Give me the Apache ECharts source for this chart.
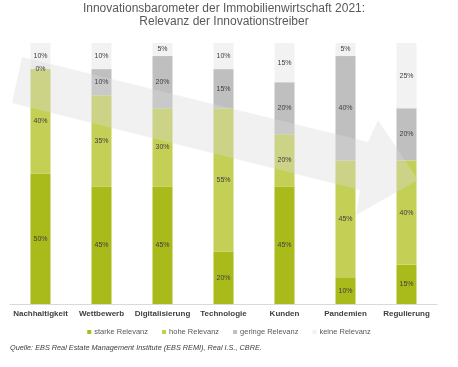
<!DOCTYPE html>
<html><head><meta charset="utf-8">
<script src="https://cdn.jsdelivr.net/npm/echarts@6/dist/echarts.min.js"></script>
<style>html,body{margin:0;padding:0;background:#fff}#c{width:458px;height:367px}</style>
</head><body><div id="c"></div>
<script>
const categories = ["Nachhaltigkeit","Wettbewerb","Digitalisierung","Technologie","Kunden","Pandemien","Regulierung"];
const starke = [50,45,45,20,45,10,15];
const hohe = [40,35,30,55,20,45,40];
const geringe = [0,10,20,15,20,40,20];
const keine = [10,10,5,10,15,5,25];
const seriesNames = ["starke Relevanz","hohe Relevanz","geringe Relevanz","keine Relevanz"];
const colors = ["#a9ba1b","#c3cf55","#bfbfbf","#f2f2f2"];

const chart = echarts.init(document.getElementById('c'), null, {renderer:'canvas'});
const data = [starke,hohe,geringe,keine];
const font = "Liberation Sans, Arial, sans-serif";
const barSeries = seriesNames.map((n,i)=>({
  name:n, type:'bar', stack:'a', barWidth:20, data:data[i], z:2,
  itemStyle:{color:colors[i]}, label:{show:false}
}));
const labelSeries = seriesNames.map((n,i)=>({
  name:n+' ', type:'bar', stack:'lbl', barWidth:20, barGap:'-100%', data:data[i], z:10,
  itemStyle:{color:'rgba(0,0,0,0)'}, silent:true,
  label:{show:true, position:'inside', formatter:'{c}%', fontSize:7, color:'#404040', fontFamily:font}
}));
chart.setOption({
  animation:false,
  textStyle:{fontFamily:font},
  title:{
    text:"Innovationsbarometer der Immobilienwirtschaft 2021:\nRelevanz der Innovationstreiber",
    left:224, top:2, textAlign:'center', padding:0,
    textStyle:{fontSize:12, fontWeight:'normal', color:'#595959', lineHeight:13, fontFamily:font}
  },
  legend:{
    data:seriesNames, left:'center', top:323, icon:'rect', itemWidth:4, itemHeight:4, itemGap:14,
    textStyle:{fontSize:7.5, color:'#595959', fontFamily:font, padding:[0,0,0,-2]}
  },
  grid:{left:10, right:21, top:43, bottom:63},
  xAxis:{
    type:'category', data:categories,
    axisLine:{lineStyle:{color:'#d9d9d9'}}, axisTick:{show:false},
    axisLabel:{fontSize:8, fontWeight:'bold', color:'#404040', margin:6, interval:0, fontFamily:font}
  },
  yAxis:{type:'value', min:0, max:100, interval:10, show:false, splitLine:{show:false}},
  series: barSeries.concat(labelSeries),
  graphic:[{
    type:'polygon', z:5,
    shape:{points:[[22,57],[368,142],[378,120],[418,180],[356,215],[360,190],[12,103]]},
    style:{fill:'rgba(218,218,218,0.38)'}
  },{
    type:'text', left:10, top:344, z:10,
    style:{text:"Quelle: EBS Real Estate Management Institute (EBS REMI), Real I.S., CBRE.", fontSize:7.3, fontStyle:'italic', fill:'#404040', fontFamily:font}
  }]
});
</script></body></html>
